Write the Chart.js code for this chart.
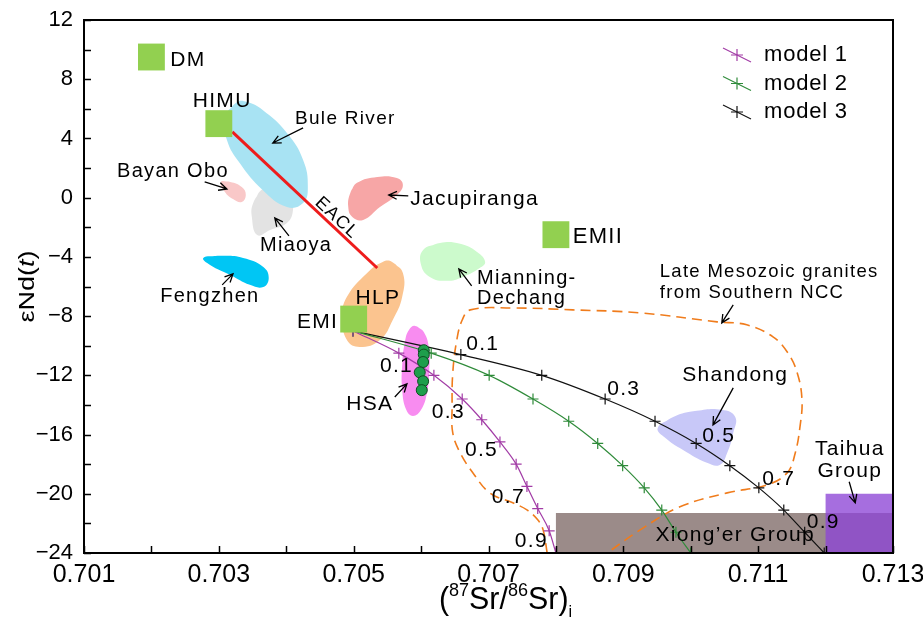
<!DOCTYPE html>
<html><head><meta charset="utf-8">
<script src="https://cdn.jsdelivr.net/npm/chart.js@4/dist/chart.umd.min.js"></script>
<style>html,body{margin:0;padding:0;background:#fff}#wrap{width:923px;height:632px;position:relative}</style>
</head><body><div id="wrap"><canvas id="c"></canvas></div>
<script>
// ---------------- data ----------------
const xTickValues = [0.701,0.702,0.703,0.704,0.705,0.706,0.707,0.708,0.709,0.710,0.711,0.712,0.713];
const xTickLabels = ['0.701','','0.703','','0.705','','0.707','','0.709','','0.711','','0.713'];
const yTickValues = [-24,-22,-20,-18,-16,-14,-12,-10,-8,-6,-4,-2,0,2,4,6,8,10,12];
const yTickLabels = ['\u221224','','\u221220','','\u221216','','\u221212','','\u22128','','\u22124','','0','','4','','8','','12'];

const endmemberNames = ['DM','HIMU','EMI','EMII'];
const endmemberSr = [0.702, 0.703, 0.705, 0.708];
const endmemberNd = [9.5, 5.0, -8.2, -2.5];

const model1Sr = [0.70499,0.70567,0.70619,0.70661,0.70690,0.70717,0.70741,0.70757,0.70773,0.70790,0.70800];
const model1Nd = [-9.0,-10.5,-12.0,-13.6,-15.0,-16.5,-18.0,-19.5,-21.0,-22.5,-24.0];
const model2Sr = [0.70499,0.70615,0.70701,0.70766,0.70819,0.70862,0.70899,0.70931,0.70957,0.70978,0.71000];
const model2Nd = [-9.0,-10.5,-12.0,-13.6,-15.1,-16.6,-18.1,-19.6,-21.1,-22.6,-24.0];
const model3Sr = [0.70499,0.70659,0.70779,0.70873,0.70947,0.71008,0.71058,0.71101,0.71138,0.71169,0.71198];
const model3Nd = [-9.0,-10.6,-12.0,-13.6,-15.1,-16.6,-18.1,-19.6,-21.1,-22.6,-24.0];

const hsaSr = [0.70604,0.70604,0.70603,0.70598,0.70603,0.70601];
const hsaNd = [-10.3,-10.6,-11.1,-11.8,-12.4,-13.0];

const eaclSr = [0.7032, 0.70535];
const eaclNd = [4.44, -4.75];

const buleRiverSr = [0.70327,0.70309,0.70312,0.70331,0.70365,0.70401,0.70425,0.70432,0.70425,0.70401,0.70365,0.70342];
const buleRiverNd = [6.46,5.45,3.90,2.34,0.52,-0.63,-0.36,0.72,2.55,4.37,5.92,6.46];
const bayanOboSr = [0.70303,0.70317,0.70334,0.70340,0.70334,0.70321,0.70309];
const bayanOboNd = [1.06,1.06,0.72,0.18,-0.29,-0.09,0.39];
const miaoyaSr = [0.70365,0.70351,0.70349,0.70357,0.70376,0.70401,0.70410,0.70406,0.70388];
const miaoyaNd = [0.59,-0.36,-1.30,-2.52,-2.18,-1.71,-0.83,0.18,0.79];
const fengzhenSr = [0.70277,0.70302,0.70336,0.70366,0.70374,0.70366,0.70346,0.70317,0.70287];
const fengzhenNd = [-4.07,-3.93,-4.07,-4.68,-5.42,-6.03,-5.89,-5.22,-4.54];
const jacupirangaSr = [0.70495,0.70505,0.70535,0.70564,0.70573,0.70564,0.70539,0.70514,0.70498,0.70492];
const jacupirangaNd = [0.32,1.00,1.40,1.33,0.86,0.18,-0.63,-1.50,-1.30,-0.63];
const hlpSr = [0.70557,0.70573,0.70572,0.70558,0.70539,0.70509,0.70490,0.70483,0.70490,0.70520,0.70543];
const hlpNd = [-4.34,-5.08,-6.70,-8.26,-9.61,-10.08,-9.61,-8.05,-6.70,-5.08,-4.34];
const mianningSr = [0.70603,0.70628,0.70658,0.70683,0.70695,0.70687,0.70662,0.70638,0.70613,0.70600];
const mianningNd = [-3.53,-3.06,-3.12,-3.67,-4.34,-4.75,-5.35,-5.62,-5.35,-4.54];
const hsaFieldSr = [0.70591,0.70604,0.70612,0.70612,0.70609,0.70600,0.70588,0.70578,0.70572,0.70572,0.70576,0.70582];
const hsaFieldNd = [-8.66,-9.07,-10.28,-11.70,-13.12,-14.33,-14.74,-14.33,-12.98,-11.30,-9.74,-8.93];
const shandongSr = [0.70951,0.70974,0.71009,0.71046,0.71066,0.71063,0.71054,0.71043,0.71024,0.70988,0.70962];
const shandongNd = [-15.55,-14.81,-14.40,-14.33,-14.81,-15.89,-17.24,-18.05,-17.91,-17.03,-16.22];
const graniteSr = [0.70787,0.70781,0.70773,0.70757,0.70736,0.70702,0.70677,0.70658,0.70647,0.70646,0.70647,0.70653,0.70661,0.70673,0.70736,0.70825,0.70925,0.71039,0.71083,0.71122,0.71144,0.71158,0.71165,0.71162,0.71155,0.71143,0.71113,0.71054,0.70984,0.70925,0.70876];
const graniteNd = [-24.0,-22.44,-21.76,-21.09,-20.61,-19.94,-18.59,-17.24,-15.89,-14.13,-11.84,-9.61,-8.26,-7.58,-7.45,-7.58,-7.78,-8.39,-8.59,-9.40,-10.48,-11.84,-13.66,-15.48,-17.24,-18.59,-19.40,-19.94,-20.88,-22.44,-24.0];
const xiongerSr = [0.708, 0.708, 0.713, 0.713];
const xiongerNd = [-24, -21.3, -21.3, -24];
const taihuaSr = [0.712, 0.712, 0.713, 0.713];
const taihuaNd = [-24, -20, -20, -24];

// ---------------- helpers ----------------
const pts = (xs, ys) => xs.map((x, i) => ({x, y: ys[i]}));
const loop = (xs, ys) => { const p = pts(xs, ys); return p.concat([p[0], p[1]]); };
const blob = (label, xs, ys, color, order) => ({
  label, data: loop(xs, ys), showLine: true, tension: 0.45, fill: 'shape',
  backgroundColor: color, borderColor: color, borderWidth: 0, pointRadius: 0, order
});
const rectSet = (label, xs, ys, color, order) => ({
  label, data: pts(xs, ys).concat([pts(xs, ys)[0]]), showLine: true, tension: 0, fill: 'shape',
  backgroundColor: color, borderColor: color, borderWidth: 0, pointRadius: 0, order
});
const model = (label, xs, ys, color) => ({
  label, data: pts(xs, ys), showLine: true, cubicInterpolationMode: 'monotone',
  borderColor: color, backgroundColor: color, borderWidth: 1.2,
  pointStyle: 'cross', pointRadius: 5.5, pointBorderWidth: 1.2, pointBorderColor: color, order: 3
});

const FONT = "'Liberation Sans', Arial, sans-serif";

// annotation texts (data units) and arrows
const labelItems = [
  {t:'DM', x:0.70228, y:9.3, a:'left', s:21},
  {t:'HIMU', x:0.70305, y:6.5, a:'center', s:21},
  {t:'Bule River', x:0.70413, y:5.32, a:'left', s:19},
  {t:'Bayan Obo', x:0.70149, y:1.8, a:'left', s:20},
  {t:'Miaoya', x:0.70361, y:-3.26, a:'left', s:20},
  {t:'Fengzhen', x:0.70213, y:-6.7, a:'left', s:20},
  {t:'Jacupiranga', x:0.70584, y:-0.09, a:'left', s:21},
  {t:'EMII', x:0.70825, y:-2.65, a:'left', s:22},
  {t:'Mianning-', x:0.70683, y:-5.49, a:'left', s:20},
  {t:'Dechang', x:0.70683, y:-6.84, a:'left', s:20},
  {t:'HLP', x:0.70536, y:-6.77, a:'center', s:21},
  {t:'EMI', x:0.70477, y:-8.39, a:'right', s:21},
  {t:'HSA', x:0.70489, y:-13.93, a:'left', s:21},
  {t:'Late Mesozoic granites', x:0.70954, y:-5.01, a:'left', s:18.5},
  {t:'from Southern NCC', x:0.70954, y:-6.43, a:'left', s:18.5},
  {t:'Shandong', x:0.71066, y:-11.97, a:'center', s:21},
  {t:'Taihua', x:0.71236, y:-16.97, a:'center', s:21},
  {t:'Group', x:0.71236, y:-18.45, a:'center', s:21},
  {t:'Xiong\u2019er Group', x:0.71066, y:-22.77, a:'center', s:21},
  {t:'0.1', x:0.70539, y:-11.36, a:'left', s:21},
  {t:'0.3', x:0.70616, y:-14.47, a:'left', s:21},
  {t:'0.5', x:0.70665, y:-17.03, a:'left', s:21},
  {t:'0.7', x:0.70705, y:-20.21, a:'left', s:21},
  {t:'0.9', x:0.70739, y:-23.18, a:'left', s:21},
  {t:'0.1', x:0.70667, y:-9.91, a:'left', s:21},
  {t:'0.3', x:0.70876, y:-12.92, a:'left', s:21},
  {t:'0.5', x:0.71017, y:-16.09, a:'left', s:21},
  {t:'0.7', x:0.71106, y:-18.99, a:'left', s:21},
  {t:'0.9', x:0.71172, y:-21.90, a:'left', s:21}
];
const arrowItems = [
  [0.70425,4.71,0.70380,3.69],
  [0.70279,1.06,0.70312,0.59],
  [0.70404,-2.58,0.70383,-1.37],
  [0.70305,-5.89,0.70321,-5.15],
  [0.70581,0.12,0.70552,0.18],
  [0.70675,-5.96,0.70656,-4.81],
  [0.70561,-13.46,0.70579,-12.58],
  [0.71063,-7.24,0.71046,-8.46],
  [0.71063,-12.85,0.71033,-15.35],
  [0.71235,-19.19,0.71244,-20.61]
];
const legendItems = [['model 1','#A23CA6'],['model 2','#2F8B3A'],['model 3','#111111']];

const decor = {
  id: 'decor',
  beforeDraw(chart) {
    const c = chart.ctx; c.save(); c.fillStyle = '#fff'; c.fillRect(0, 0, chart.width, chart.height); c.restore();
  },
  afterDatasetsDraw(chart) {
    const c = chart.ctx, xs = chart.scales.x, ys = chart.scales.y, A = chart.chartArea;
    const px = v => xs.getPixelForValue(v), py = v => ys.getPixelForValue(v);
    c.save();
    // frame and inward ticks
    c.strokeStyle = '#000'; c.lineWidth = 2;
    c.strokeRect(A.left, A.top, A.right - A.left, A.bottom - A.top);
    c.lineWidth = 1.5;
    c.beginPath();
    xs.ticks.forEach(t => { const x = Math.round(px(t.value)) + 0.5; c.moveTo(x, A.bottom); c.lineTo(x, A.bottom - 7); });
    ys.ticks.forEach(t => { const y = Math.round(py(t.value)) + 0.5; c.moveTo(A.left, y); c.lineTo(A.left + 7, y); });
    c.stroke();
    c.fillStyle = '#000'; c.textBaseline = 'middle';
    // text labels
    c.letterSpacing = '1.3px';
    labelItems.forEach(l => { c.font = l.s + 'px ' + FONT; c.textAlign = l.a; c.fillText(l.t, px(l.x), py(l.y)); });
    // EACL rotated
    c.save(); c.translate(px(0.70475), py(-1.37)); c.rotate(43 * Math.PI / 180);
    c.font = '18px ' + FONT; c.textAlign = 'center'; c.fillText('EACL', 0, 0); c.restore();
    c.letterSpacing = '0px';
    // arrows
    c.strokeStyle = '#000'; c.lineWidth = 1.3;
    arrowItems.forEach(a => {
      const x1 = px(a[0]), y1 = py(a[1]), x2 = px(a[2]), y2 = py(a[3]);
      const ang = Math.atan2(y2 - y1, x2 - x1), h = 9;
      c.beginPath(); c.moveTo(x1, y1); c.lineTo(x2, y2);
      c.moveTo(x2 - h * Math.cos(ang - 0.45), y2 - h * Math.sin(ang - 0.45)); c.lineTo(x2, y2);
      c.lineTo(x2 - h * Math.cos(ang + 0.45), y2 - h * Math.sin(ang + 0.45));
      c.stroke();
    });
    // legend
    legendItems.forEach((it, i) => {
      const y0 = A.top + 35 + i * 28.5, x0 = A.right - 170;
      c.strokeStyle = it[1]; c.lineWidth = 1.2;
      c.beginPath(); c.moveTo(x0, y0 - 7); c.lineTo(x0 + 28, y0 + 7); c.stroke();
      c.beginPath(); c.moveTo(x0 + 14, y0 - 6); c.lineTo(x0 + 14, y0 + 6); c.moveTo(x0 + 8, y0); c.lineTo(x0 + 20, y0); c.stroke();
      c.fillStyle = '#000'; c.font = '22px ' + FONT; c.textAlign = 'left';
      c.letterSpacing = '0.8px';
      c.fillText(it[0], x0 + 41, y0);
      c.letterSpacing = '0px';
    });
    // y title
    c.save(); c.translate(28, (A.top + A.bottom) / 2); c.rotate(-Math.PI / 2); c.scale(1, 0.8);
    const f1 = '27px ' + FONT, f2 = 'italic 27px ' + FONT;
    c.font = f1; const w1 = c.measureText('\u03b5Nd(').width, w3 = c.measureText(')').width;
    c.font = f2; const w2 = c.measureText('t').width;
    let sx = -(w1 + w2 + w3) / 2; c.textAlign = 'left';
    c.font = f1; c.fillText('\u03b5Nd(', sx, 0); sx += w1;
    c.font = f2; c.fillText('t', sx, 0); sx += w2;
    c.font = f1; c.fillText(')', sx, 0);
    c.restore();
    // x title
    const parts = [['(', 32, 0], ['87', 19, -13], ['Sr/', 32, 0], ['86', 19, -13], ['Sr)', 32, 0], ['i', 17, 8]];
    c.save(); c.translate((A.left + A.right) / 2 + 17, 609); c.scale(0.95, 1);
    let tw = 0; parts.forEach(p => { c.font = p[1] + 'px ' + FONT; tw += c.measureText(p[0]).width; });
    let xx = -tw / 2; c.textBaseline = 'alphabetic'; c.textAlign = 'left';
    parts.forEach(p => { c.font = p[1] + 'px ' + FONT; c.fillText(p[0], xx, p[2]); xx += c.measureText(p[0]).width; });
    c.restore();
    c.restore();
  }
};

const datasets = [
  {label: 'endmembers', data: pts(endmemberSr, endmemberNd), pointStyle: 'rect', pointRadius: 19, backgroundColor: '#92D050', borderColor: '#92D050', borderWidth: 0, showLine: false, order: 1},
  {label: 'HSA samples', data: pts(hsaSr, hsaNd), pointStyle: 'circle', pointRadius: 5.5, backgroundColor: '#1E9E4C', borderColor: '#0E4F22', borderWidth: 1, showLine: false, order: 2},
  model('model 1', model1Sr, model1Nd, '#A23CA6'),
  model('model 2', model2Sr, model2Nd, '#2F8B3A'),
  model('model 3', model3Sr, model3Nd, '#111111'),
  {label: 'EACL', data: pts(eaclSr, eaclNd), showLine: true, borderColor: '#EE1C1C', borderWidth: 3, pointRadius: 0, order: 4},
  {label: 'Late Mesozoic granites', data: pts(graniteSr, graniteNd), showLine: true, tension: 0.4, borderColor: '#F07C1C', borderWidth: 1.6, borderDash: [10, 6], pointRadius: 0, order: 5},
  rectSet('Taihua Group', taihuaSr, taihuaNd, 'rgba(141,69,214,0.78)', 6),
  rectSet('Xiong\u2019er Group', xiongerSr, xiongerNd, '#9B8B89', 7),
  blob('HSA', hsaFieldSr, hsaFieldNd, '#F88CF0', 8),
  blob('Shandong', shandongSr, shandongNd, '#C8C8F8', 8),
  blob('Bule River', buleRiverSr, buleRiverNd, '#A8E3F3', 8),
  blob('Bayan Obo', bayanOboSr, bayanOboNd, '#F9C8C8', 8),
  blob('Miaoya', miaoyaSr, miaoyaNd, '#E3E3E3', 8),
  blob('Fengzhen', fengzhenSr, fengzhenNd, '#00C6F4', 8),
  blob('Jacupiranga', jacupirangaSr, jacupirangaNd, '#F7A6A6', 8),
  blob('HLP', hlpSr, hlpNd, '#FBC48F', 8),
  blob('Mianning-Dechang', mianningSr, mianningNd, '#CCFACC', 8)
];

new Chart(document.getElementById('c'), {
  type: 'scatter',
  data: {datasets},
  options: {
    responsive: true, maintainAspectRatio: false, animation: false, devicePixelRatio: 1,
    layout: {padding: {top: 20, right: 30, left: 0, bottom: 0}},
    plugins: {legend: {display: false}, tooltip: {enabled: false}},
    scales: {
      x: {
        type: 'linear', min: 0.701, max: 0.713,
        afterBuildTicks: s => { s.ticks = xTickValues.map(v => ({value: v})); },
        afterFit: s => { s.height = 79; s.paddingLeft = 0; s.paddingRight = 0; },
        grid: {display: false, drawTicks: false}, border: {display: false},
        ticks: {autoSkip: false, maxRotation: 0, minRotation: 0, padding: 7, color: '#000',
          font: {family: FONT, size: 25},
          callback: (v, i) => xTickLabels[i]}
      },
      y: {
        type: 'linear', min: -24, max: 12,
        afterBuildTicks: s => { s.ticks = yTickValues.map(v => ({value: v})); },
        afterFit: s => { s.width = 84; s.paddingTop = 0; s.paddingBottom = 0; },
        grid: {display: false, drawTicks: false}, border: {display: false},
        ticks: {autoSkip: false, padding: 11, color: '#000', font: {family: FONT, size: 22},
          callback: (v, i) => yTickLabels[i]}
      }
    }
  },
  plugins: [decor]
});
</script></body></html>
